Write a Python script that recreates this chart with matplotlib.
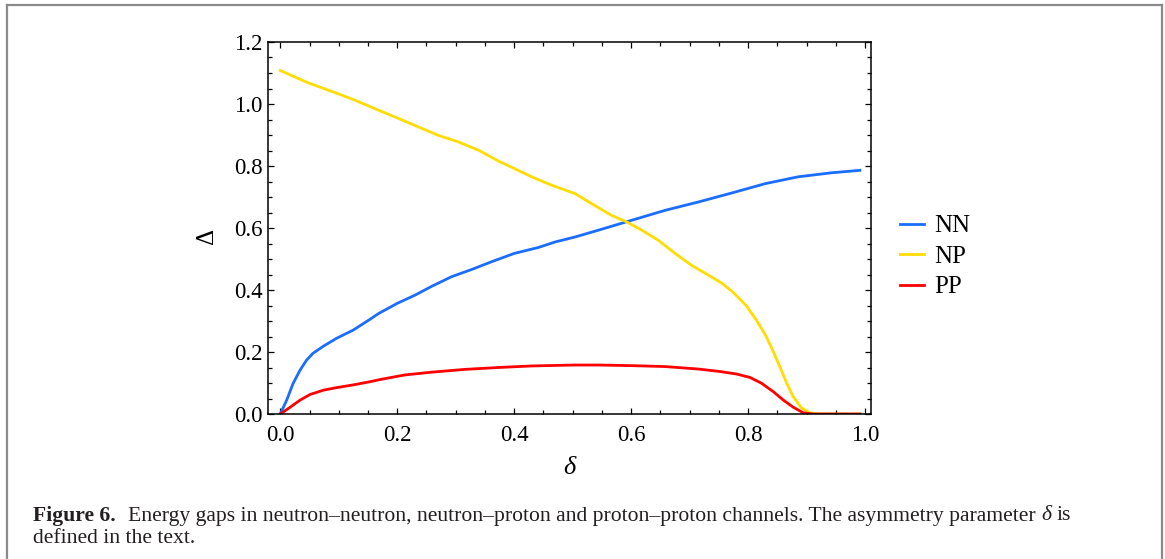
import matplotlib
matplotlib.use("Agg")
import matplotlib.pyplot as plt
from matplotlib.ticker import MultipleLocator, FormatStrFormatter
from matplotlib.lines import Line2D

# Energy gaps versus asymmetry parameter delta
nn_delta = [0.000, 0.011, 0.022, 0.034, 0.045, 0.056, 0.074, 0.096, 0.125, 0.153,
            0.168, 0.200, 0.230, 0.259, 0.293, 0.327, 0.361, 0.400, 0.441, 0.470,
            0.504, 0.544, 0.592, 0.658, 0.715, 0.772, 0.829, 0.885, 0.942, 0.991]
nn_gap = [0.000, 0.045, 0.099, 0.142, 0.174, 0.196, 0.219, 0.244, 0.271, 0.305,
          0.324, 0.357, 0.383, 0.412, 0.443, 0.466, 0.491, 0.518, 0.537, 0.555,
          0.571, 0.593, 0.620, 0.657, 0.684, 0.713, 0.743, 0.765, 0.778, 0.786]

np_delta = [0.000, 0.048, 0.099, 0.128, 0.168, 0.200, 0.230, 0.270, 0.304, 0.339,
            0.373, 0.400, 0.430, 0.464, 0.504, 0.532, 0.566, 0.592, 0.618, 0.646,
            0.675, 0.703, 0.732, 0.755, 0.774, 0.797, 0.814, 0.829, 0.843, 0.854,
            0.866, 0.877, 0.891, 0.905, 0.923, 0.991]
np_gap = [1.108, 1.068, 1.033, 1.012, 0.980, 0.955, 0.931, 0.899, 0.878, 0.851,
          0.816, 0.792, 0.765, 0.738, 0.711, 0.679, 0.641, 0.620, 0.593, 0.561,
          0.518, 0.480, 0.448, 0.422, 0.393, 0.349, 0.303, 0.257, 0.201, 0.153,
          0.099, 0.056, 0.020, 0.004, 0.000, 0.000]

pp_delta = [0.000, 0.017, 0.034, 0.051, 0.074, 0.096, 0.125, 0.153, 0.173, 0.213,
            0.259, 0.316, 0.373, 0.430, 0.504, 0.544, 0.601, 0.658, 0.715, 0.752,
            0.780, 0.803, 0.823, 0.843, 0.860, 0.877, 0.894, 0.911, 0.991]
pp_gap = [0.000, 0.022, 0.045, 0.063, 0.077, 0.085, 0.094, 0.104, 0.112, 0.126,
          0.135, 0.144, 0.150, 0.155, 0.158, 0.158, 0.156, 0.153, 0.145, 0.137,
          0.129, 0.118, 0.099, 0.072, 0.045, 0.022, 0.004, 0.000, 0.000]

series_labels = ["NN", "NP", "PP"]
series_colors = ["#1a6dff", "#ffdd00", "#ff0000"]

W, H = 1165, 559
plt.rcParams["font.family"] = ["Liberation Serif", "DejaVu Serif"]

fig = plt.figure(figsize=(W / 100, H / 100), dpi=100)
fig.patch.set_facecolor("white")

# gray frame around the figure panel (no bottom edge)
frame_kw = dict(color="#8a8a8a", lw=1.6, transform=fig.transFigure, clip_on=False)
fig.add_artist(Line2D([7 / W, 7 / W], [0, 1 - 4.5 / H], **frame_kw))
fig.add_artist(Line2D([7 / W, 1162 / W], [1 - 4.5 / H, 1 - 4.5 / H], **frame_kw))
fig.add_artist(Line2D([1162 / W, 1162 / W], [0, 1 - 4.5 / H], **frame_kw))

ax = fig.add_axes([268 / W, 1 - 414 / H, (871 - 268) / W, (414 - 42) / H])
for d, g, lab, col in zip([nn_delta, np_delta, pp_delta], [nn_gap, np_gap, pp_gap],
                          series_labels, series_colors):
    ax.plot(d, g, color=col, lw=2.0, label=lab, solid_joinstyle="round")

ax.set_xlim(-0.021, 1.010)
ax.set_ylim(0.0, 1.2)
ax.xaxis.set_major_locator(MultipleLocator(0.2))
ax.xaxis.set_minor_locator(MultipleLocator(0.05))
ax.yaxis.set_major_locator(MultipleLocator(0.2))
ax.yaxis.set_minor_locator(MultipleLocator(0.05))
ax.xaxis.set_major_formatter(FormatStrFormatter("%.1f"))
ax.yaxis.set_major_formatter(FormatStrFormatter("%.1f"))
for sp in ax.spines.values():
    sp.set_linewidth(1.1)
ax.tick_params(which="both", direction="in", top=True, right=True, width=0.9,
               labelsize=16.5, colors="black")
ax.tick_params(which="major", length=4.0)
ax.tick_params(which="minor", length=2.6)
ax.tick_params(axis="x", which="major", pad=8)
ax.tick_params(axis="y", which="major", pad=4)

ax.set_ylabel("Δ", fontsize=18, rotation=90)
ax.yaxis.set_label_coords(-0.083, 0.48)
ax.set_xlabel("δ", fontsize=19, style="italic")
ax.xaxis.set_label_coords(0.5, -0.115)

leg = ax.legend(loc="center left", bbox_to_anchor=(900 / W, 1 - 256.5 / H),
                bbox_transform=fig.transFigure, frameon=False, fontsize=18,
                handlelength=0.95, handletextpad=0.4, labelspacing=0.32,
                borderpad=0, borderaxespad=0)
for h in leg.get_lines():
    h.set_linewidth(2.0)

# caption, placed piece by piece so fonts can change inline
renderer = fig.canvas.get_renderer()
cap_size = 15.6
cap_color = "#231f20"


def width_of(s, **kw):
    t = fig.text(0, 0, s, fontsize=cap_size, **kw)
    w = t.get_window_extent(renderer).width
    t.remove()
    return w


space = width_of("x x") - width_of("xx")


def put_line(x_px, y_px, pieces):
    x = x_px
    for s, kw, gap in pieces:
        t = fig.text(x / W, 1 - y_px / H, s, fontsize=cap_size, color=cap_color,
                     ha="left", va="baseline", **kw)
        x = t.get_window_extent(renderer).x1 + gap * space


put_line(33, 520.5, [
    ("Figure 6.", dict(weight="bold"), 2.3),
    ("Energy gaps in neutron\u2013neutron, neutron\u2013proton and proton\u2013proton "
     "channels. The asymmetry parameter", {}, 1.0),
    ("δ", dict(style="italic"), 1.0),
    ("is", {}, 0),
])
put_line(33, 543, [("defined in the text.", {}, 0)])

fig.savefig("out.png", dpi=100)
